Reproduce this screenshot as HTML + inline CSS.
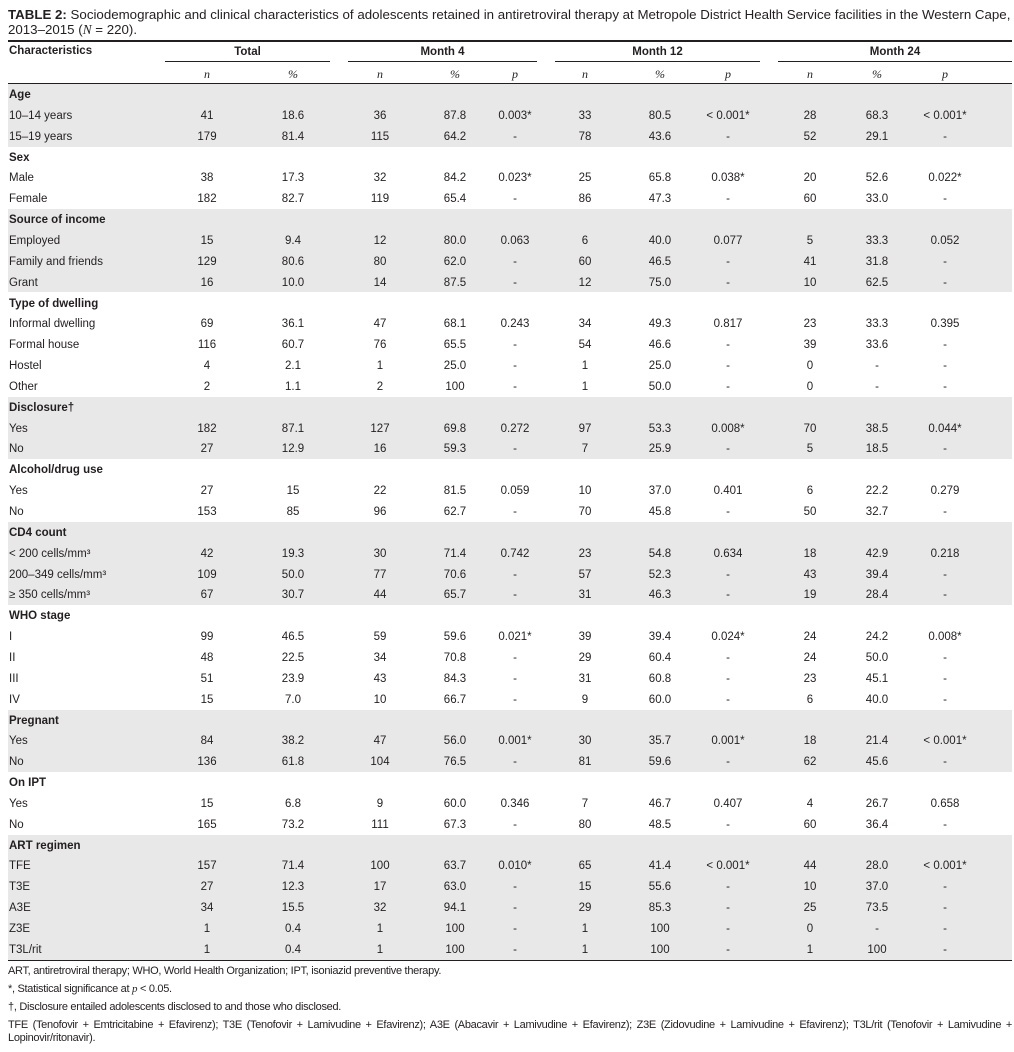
<!DOCTYPE html>
<html><head><meta charset="utf-8">
<style>
body{margin:0;width:1014px;height:1052px;background:#fff;font-family:"Liberation Sans",sans-serif;color:#231f20;position:relative;overflow:hidden}
.a{position:absolute;white-space:nowrap}
.t{font-size:13.3px;left:8px}
.c{font-size:11.5px;transform:translateX(-50%)}
.l{font-size:11.5px;left:9px}
.h{font-weight:bold}
.band{position:absolute;left:8px;width:1004px;background:#e8e8e8}
.rule{position:absolute;background:#231f20}
.fn{font-size:11px;left:8px;letter-spacing:-0.3px}
.i{font-family:"Liberation Serif",serif;font-style:italic}
</style></head><body>
<div class="a t" style="top:7px"><b>TABLE 2:</b> Sociodemographic and clinical characteristics of adolescents retained in antiretroviral therapy at Metropole District Health Service facilities in the Western Cape,</div>
<div class="a t" style="top:22px">2013–2015 (<span class="i">N</span> = 220).</div>
<div class="rule" style="left:8px;width:1004px;top:40px;height:2px"></div>
<div class="rule" style="left:8px;width:1004px;top:83px;height:1px"></div>
<div class="rule" style="left:8px;width:1004px;top:959px;height:2px"></div>
<div class="a l h" style="top:45px">Characteristics</div>
<div id="tbl"></div>
<div class="a fn" style="top:965px">ART, antiretroviral therapy; WHO, World Health Organization; IPT, isoniazid preventive therapy.</div>
<div class="a fn" style="top:983px">*, Statistical significance at <span class="i">p</span> &lt; 0.05.</div>
<div class="a fn" style="top:1001px">†, Disclosure entailed adolescents disclosed to and those who disclosed.</div>
<div class="a fn" style="top:1019px;width:1004px;white-space:normal;line-height:13px;text-align:justify">TFE (Tenofovir + Emtricitabine + Efavirenz); T3E (Tenofovir + Lamivudine + Efavirenz); A3E (Abacavir + Lamivudine + Efavirenz); Z3E (Zidovudine + Lamivudine + Efavirenz); T3L/rit (Tenofovir + Lamivudine + Lopinovir/ritonavir).</div>
<script>
const groupHeaders=["Total","Month 4","Month 12","Month 24"];
const subHeaders=["n","%","n","%","p","n","%","p","n","%","p"];
const sections=["Age","Sex","Source of income","Type of dwelling","Disclosure†","Alcohol/drug use","CD4 count","WHO stage","Pregnant","On IPT","ART regimen"];
const rowLabels=[
["10–14 years","15–19 years"],["Male","Female"],["Employed","Family and friends","Grant"],
["Informal dwelling","Formal house","Hostel","Other"],["Yes","No"],["Yes","No"],
["< 200 cells/mm³","200–349 cells/mm³","≥ 350 cells/mm³"],["I","II","III","IV"],["Yes","No"],["Yes","No"],
["TFE","T3E","A3E","Z3E","T3L/rit"]];
const rowValues=[
[["41","18.6","36","87.8","0.003*","33","80.5","< 0.001*","28","68.3","< 0.001*"],["179","81.4","115","64.2","-","78","43.6","-","52","29.1","-"]],
[["38","17.3","32","84.2","0.023*","25","65.8","0.038*","20","52.6","0.022*"],["182","82.7","119","65.4","-","86","47.3","-","60","33.0","-"]],
[["15","9.4","12","80.0","0.063","6","40.0","0.077","5","33.3","0.052"],["129","80.6","80","62.0","-","60","46.5","-","41","31.8","-"],["16","10.0","14","87.5","-","12","75.0","-","10","62.5","-"]],
[["69","36.1","47","68.1","0.243","34","49.3","0.817","23","33.3","0.395"],["116","60.7","76","65.5","-","54","46.6","-","39","33.6","-"],["4","2.1","1","25.0","-","1","25.0","-","0","-","-"],["2","1.1","2","100","-","1","50.0","-","0","-","-"]],
[["182","87.1","127","69.8","0.272","97","53.3","0.008*","70","38.5","0.044*"],["27","12.9","16","59.3","-","7","25.9","-","5","18.5","-"]],
[["27","15","22","81.5","0.059","10","37.0","0.401","6","22.2","0.279"],["153","85","96","62.7","-","70","45.8","-","50","32.7","-"]],
[["42","19.3","30","71.4","0.742","23","54.8","0.634","18","42.9","0.218"],["109","50.0","77","70.6","-","57","52.3","-","43","39.4","-"],["67","30.7","44","65.7","-","31","46.3","-","19","28.4","-"]],
[["99","46.5","59","59.6","0.021*","39","39.4","0.024*","24","24.2","0.008*"],["48","22.5","34","70.8","-","29","60.4","-","24","50.0","-"],["51","23.9","43","84.3","-","31","60.8","-","23","45.1","-"],["15","7.0","10","66.7","-","9","60.0","-","6","40.0","-"]],
[["84","38.2","47","56.0","0.001*","30","35.7","0.001*","18","21.4","< 0.001*"],["136","61.8","104","76.5","-","81","59.6","-","62","45.6","-"]],
[["15","6.8","9","60.0","0.346","7","46.7","0.407","4","26.7","0.658"],["165","73.2","111","67.3","-","80","48.5","-","60","36.4","-"]],
[["157","71.4","100","63.7","0.010*","65","41.4","< 0.001*","44","28.0","< 0.001*"],["27","12.3","17","63.0","-","15","55.6","-","10","37.0","-"],["34","15.5","32","94.1","-","29","85.3","-","25","73.5","-"],["1","0.4","1","100","-","1","100","-","0","-","-"],["1","0.4","1","100","-","1","100","-","1","100","-"]]];
const colX=[207,293,380,455,515,585,660,728,810,877,945];
const groupSpan=[[165,330],[348,537],[555,760],[778,1012]];
const tbl=document.getElementById('tbl');
const ROW=20.85, Y0=95;
function mk(cls,txt,x,y){const d=document.createElement('div');d.className='a '+cls;d.textContent=txt;if(x!==null)d.style.left=x+'px';d.style.top=(y-6)+'px';tbl.appendChild(d);return d;}
groupHeaders.forEach((g,i)=>{
 const d=mk('c h',g,(groupSpan[i][0]+groupSpan[i][1])/2,52);
 
 
 const r=document.createElement('div');r.className='rule';
 r.style.left=groupSpan[i][0]+'px';r.style.width=(groupSpan[i][1]-groupSpan[i][0])+'px';r.style.top='61px';r.style.height='1px';
 
 
 tbl.appendChild(r);
});
subHeaders.forEach((s,i)=>{
 const d=mk('c i',s,colX[i],73);
 d.style.fontSize='12px';
 
 
});
let k=0;
sections.forEach((s,si)=>{
 const n=rowLabels[si].length+1;
 if(si%2===0){const b=document.createElement('div');b.className='band';
  b.style.top=(Y0+k*ROW-11)+'px';b.style.height=(n*ROW)+'px';
  
  
  tbl.appendChild(b);}
 const h=mk('l h',s,null,Y0+k*ROW);
 
 
 k++;
 rowLabels[si].forEach((lab,ri)=>{
  const y=Y0+k*ROW;
  const l=mk('l',lab,null,y);
  
  
  rowValues[si][ri].forEach((v,ci)=>{
   const c=mk('c',v,colX[ci],y);
   
   
  });
  k++;
 });
});
</script>
</body></html>
